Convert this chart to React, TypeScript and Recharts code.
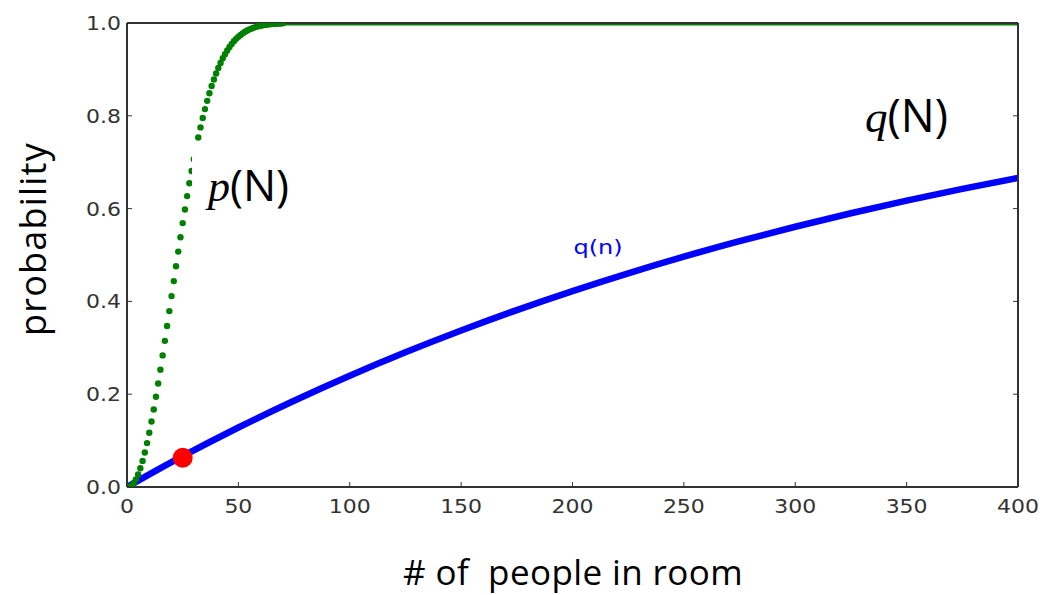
import React from 'react'
import { ComposedChart, Line, XAxis, YAxis } from 'recharts'

// p(N): chance that at least two of N people share a birthday (green dots)
const pPeople = [
  1, 2, 3, 4, 5, 6, 7, 8, 9, 10, 11, 12, 13, 14, 15, 16, 17, 18, 19, 20,
  21, 22, 23, 24, 25, 26, 27, 28, 29, 30, 31, 32, 33, 34, 35, 36, 37, 38, 39, 40,
  41, 42, 43, 44, 45, 46, 47, 48, 49, 50, 51, 52, 53, 54, 55, 56, 57, 58, 59, 60,
  61, 62, 63, 64, 65, 66, 67, 68, 69, 70,
]
const pProb = [
  0, 0.0027, 0.0082, 0.0164, 0.0271, 0.0405, 0.0562, 0.0743, 0.0946, 0.1169,
  0.1411, 0.167, 0.1944, 0.2231, 0.2529, 0.2836, 0.315, 0.3469, 0.3791, 0.4114,
  0.4437, 0.4757, 0.5073, 0.5383, 0.5687, 0.5982, 0.6269, 0.6545, 0.681, 0.7063,
  0.7305, 0.7533, 0.775, 0.7953, 0.8144, 0.8322, 0.8487, 0.8641, 0.8782, 0.8912,
  0.9032, 0.914, 0.9239, 0.9329, 0.941, 0.9483, 0.9548, 0.9606, 0.9658, 0.9704,
  0.9744, 0.978, 0.9811, 0.9839, 0.9863, 0.9883, 0.9901, 0.9917, 0.993, 0.9941,
  0.9951, 0.9959, 0.9966, 0.9972, 0.9977, 0.9981, 0.9984, 0.9987, 0.999, 0.9992,
]
// beyond ~70 people the dots merge into a flat band at 1.0
const pFlatPeople = [70, 400]
const pFlatProb = [1, 1]

// q(n): chance someone shares *your* birthday (blue line)
const qPeople = [0, 10, 25, 50, 75, 100, 125, 150, 175, 200, 225, 250, 275, 300, 325, 350, 375, 400]
const qProb = [
  0, 0.0271, 0.0663, 0.1282, 0.186, 0.2399, 0.2903, 0.3373, 0.3813, 0.4223,
  0.4606, 0.4964, 0.5297, 0.5609, 0.59, 0.6172, 0.6426, 0.6663,
]

const markerPeople = [25]
const markerProb = [0.063]

const xTicks = [0, 50, 100, 150, 200, 250, 300, 350, 400]
const yTicks = [0, 0.2, 0.4, 0.6, 0.8, 1.0]

const toRows = (xs: number[], ys: number[]) => xs.map((x, i) => ({ x, y: ys[i] }))
const pData = toRows(pPeople, pProb)
const pFlatData = toRows(pFlatPeople, pFlatProb)
const qData = toRows(qPeople, qProb)
const markerData = toRows(markerPeople, markerProb)

const FRAME = '#333333'
const TICK_FONT = 'DejaVu Sans'
const LABEL_FONT = "'Open Sans', sans-serif"
// the source picture is a little stretched sideways, so the matplotlib text is too
const STRETCH = 1.1

const BottomTick = ({ x, y, payload }: any) => (
  <g>
    <line x1={x} x2={x} y1={y} y2={y - 5} stroke={FRAME} strokeWidth={1} />
    <text
      transform={`translate(${x}, ${y + 26}) scale(${STRETCH}, 1)`}
      textAnchor="middle"
      fontFamily={TICK_FONT}
      fontSize={20}
      fill="#333"
    >
      {payload.value}
    </text>
  </g>
)

const LeftTick = ({ x, y, payload }: any) => (
  <g>
    <line x1={x} x2={x + 5} y1={y} y2={y} stroke={FRAME} strokeWidth={1} />
    <text
      transform={`translate(${x - 6}, ${y + 7}) scale(${STRETCH}, 1)`}
      textAnchor="end"
      fontFamily={TICK_FONT}
      fontSize={20}
      fill="#333"
    >
      {payload.value.toFixed(1)}
    </text>
  </g>
)

const TopTick = ({ x, y }: any) => (
  <line x1={x} x2={x} y1={y} y2={y + 5} stroke={FRAME} strokeWidth={1} />
)

const RightTick = ({ x, y }: any) => (
  <line x1={x} x2={x - 5} y1={y} y2={y} stroke={FRAME} strokeWidth={1} />
)

// overlay: the pasted text box (hides a few green dots) and the slide labels
const Overlay = () => (
  <svg
    width={1047}
    height={595}
    style={{ position: 'absolute', left: 0, top: 0, pointerEvents: 'none' }}
  >
    <rect x={192} y={144} width={110} height={70} fill="#fff" />
    <text x={208} y={201} fontSize={44}>
      <tspan fontFamily="Liberation Serif" fontStyle="italic">p</tspan>
      <tspan fontFamily={LABEL_FONT}>(N)</tspan>
    </text>
    <text x={865} y={132} fontSize={45}>
      <tspan fontFamily="Liberation Serif" fontStyle="italic">q</tspan>
      <tspan fontFamily={LABEL_FONT}>(N)</tspan>
    </text>
    <text
      transform={`translate(598, 254) scale(1.2, 1)`}
      textAnchor="middle"
      fontFamily={TICK_FONT}
      fontSize={20}
      fill="#0000ff"
    >
      q(n)
    </text>
    <text
      x={573}
      y={585}
      textAnchor="middle"
      fontFamily={LABEL_FONT}
      fontSize={35}
      letterSpacing={0.4}
      fill="#000"
      style={{ whiteSpace: 'pre' }}
    >
      {'# of  people in room'}
    </text>
    <text
      x={0}
      y={0}
      transform="translate(46, 239) rotate(-90)"
      textAnchor="middle"
      fontFamily={LABEL_FONT}
      fontSize={36}
      letterSpacing={1.2}
      fill="#000"
    >
      probability
    </text>
  </svg>
)

export default function App() {
  return (
    <div style={{ position: 'absolute', left: 0, top: 0, width: 1047, height: 595, background: '#fff' }}>
      <ComposedChart
        width={1047}
        height={595}
        margin={{ top: 22, right: 28, left: 126, bottom: 107 }}
      >
        <XAxis
          xAxisId="bottom"
          dataKey="x"
          type="number"
          domain={[0, 400]}
          ticks={xTicks}
          height={1}
          tickSize={0}
          tickMargin={0}
          tick={<BottomTick />}
          axisLine={{ stroke: FRAME, strokeWidth: 2 }}
          allowDataOverflow
        />
        <XAxis
          xAxisId="top"
          orientation="top"
          type="number"
          domain={[0, 400]}
          ticks={xTicks}
          height={1}
          tickSize={0}
          tickMargin={0}
          tick={<TopTick />}
          axisLine={{ stroke: FRAME, strokeWidth: 2 }}
          allowDataOverflow
        />
        <YAxis
          yAxisId="left"
          type="number"
          domain={[0, 1]}
          ticks={yTicks}
          width={1}
          tickSize={0}
          tickMargin={0}
          tick={<LeftTick />}
          axisLine={{ stroke: FRAME, strokeWidth: 2 }}
          allowDataOverflow
        />
        <YAxis
          yAxisId="right"
          orientation="right"
          type="number"
          domain={[0, 1]}
          ticks={yTicks}
          width={1}
          tickSize={0}
          tickMargin={0}
          tick={<RightTick />}
          axisLine={{ stroke: FRAME, strokeWidth: 2 }}
          allowDataOverflow
        />
        <Line
          xAxisId="bottom"
          yAxisId="left"
          data={qData}
          dataKey="y"
          type="monotone"
          stroke="#0000ff"
          strokeWidth={6.5}
          dot={false}
          activeDot={false}
          isAnimationActive={false}
        />
        <Line
          xAxisId="bottom"
          yAxisId="left"
          data={pFlatData}
          dataKey="y"
          type="linear"
          stroke="#008000"
          strokeWidth={5}
          dot={false}
          activeDot={false}
          isAnimationActive={false}
        />
        <Line
          xAxisId="bottom"
          yAxisId="left"
          data={pData}
          dataKey="y"
          type="linear"
          stroke="none"
          dot={{ r: 3.2, fill: '#008000', stroke: 'none' }}
          activeDot={false}
          isAnimationActive={false}
        />
        <Line
          xAxisId="bottom"
          yAxisId="left"
          data={markerData}
          dataKey="y"
          stroke="none"
          dot={{ r: 10, fill: '#ff0000', stroke: 'none' }}
          activeDot={false}
          isAnimationActive={false}
        />
      </ComposedChart>
      <Overlay />
    </div>
  )
}
